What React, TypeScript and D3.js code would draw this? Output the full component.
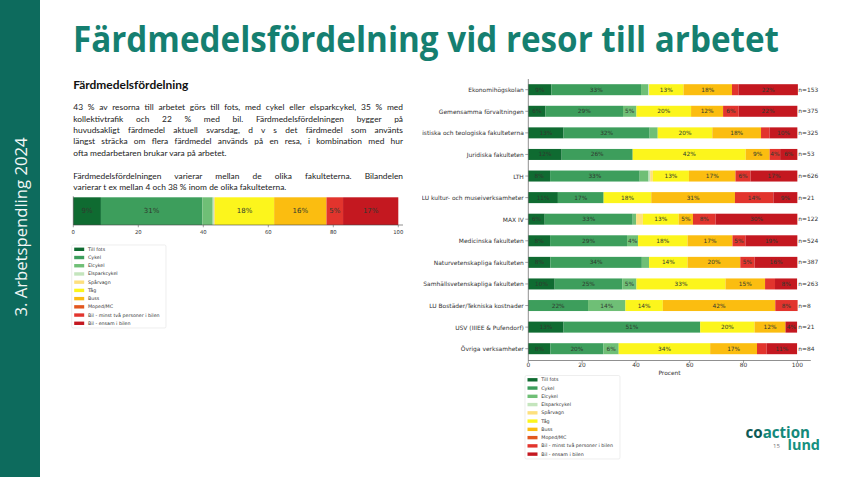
import React, { useLayoutEffect, useRef } from 'react';
import * as d3 from 'd3';

// ---------- DATA ----------
const modes = [
  'Till fots', 'Cykel', 'Elcykel', 'Elsparkcykel', 'Spårvagn', 'Tåg', 'Buss',
  'Moped/MC', 'Bil - minst två personer i bilen', 'Bil - ensam i bilen',
];
const modeColors = [
  '#0f6b31', '#3d9e5c', '#6fbf76', '#c4e5bd', '#fde07e', '#fcf51c', '#fbbd10',
  '#e2571f', '#e2342d', '#c41820',
];

// overall distribution (left chart), in mode order
const overall = [8.5, 31.2, 3.2, 0.4, 0.3, 18.2, 16.1, 0, 5.1, 17.0];
const overallTicks = [0, 20, 40, 60, 80, 100];

const units = [
  'Ekonomihögskolan',
  'Gemensamma förvaltningen',
  'Humanistiska och teologiska fakulteterna',
  'Juridiska fakulteten',
  'LTH',
  'LU kultur- och museiverksamheter',
  'MAX IV',
  'Medicinska fakulteten',
  'Naturvetenskapliga fakulteten',
  'Samhällsvetenskapliga fakulteten',
  'LU Bostäder/Tekniska kostnader',
  'USV (IIIEE & Pufendorf)',
  'Övriga verksamheter',
];
const nValues = [153, 375, 325, 53, 626, 21, 122, 524, 387, 263, 8, 21, 84];

const tillFots = [8.6, 6.4, 13.1, 12.4, 8.1, 11.0, 6.1, 8.1, 8.2, 9.8, 0, 13.1, 8.2];
const cykel = [33.3, 28.8, 32.0, 26.4, 33.3, 17.0, 32.7, 28.6, 34.0, 25.1, 22.2, 50.8, 19.7];
const elcykel = [2.7, 5.0, 3.0, 0, 3.3, 0, 1.3, 4.1, 2.7, 5.3, 13.9, 0, 5.7];
const elsparkcykel = [0.3, 0, 0, 0, 0.6, 0, 0, 0, 0, 0, 0, 0, 0];
const sparvagn = [0, 0, 0, 0, 1.0, 0, 2.5, 0, 0, 0, 0, 0, 0];
const tag = [12.8, 20.3, 20.3, 42.0, 13.4, 17.7, 13.3, 18.4, 14.3, 33.1, 13.9, 20.2, 34.0];
const buss = [18.0, 11.9, 18.1, 8.9, 17.3, 31.1, 5.3, 16.7, 19.6, 14.7, 41.8, 11.5, 17.4];
const moped = [0, 0, 0, 0, 0, 0, 0, 0, 0, 0, 0, 0, 0];
const bilMinstTva = [2.4, 5.8, 3.2, 3.9, 5.6, 14.3, 8.4, 4.8, 5.3, 3.7, 8.3, 0, 3.6];
const bilEnsam = [22.1, 21.8, 10.3, 6.4, 17.4, 8.9, 30.4, 19.3, 15.9, 8.2, 0, 4.3, 11.3];
const seriesByMode = [tillFots, cykel, elcykel, elsparkcykel, sparvagn, tag, buss, moped, bilMinstTva, bilEnsam];
const unitTicks = [0, 20, 40, 60, 80, 100];

const title = 'Färdmedelsfördelning vid resor till arbetet';
const sideText = '3. Arbetspendling 2024';
const heading = 'Färdmedelsfördelning';
const paragraph1 = [
  '43 % av resorna till arbetet görs till fots, med cykel eller elsparkcykel,  35 % med',
  'kollektivtrafik och 22 % med bil. Färdmedelsfördelningen bygger på',
  'huvudsakligt färdmedel aktuell svarsdag, d v s det färdmedel som använts',
  'längst sträcka om flera färdmedel används på en resa, i kombination med hur',
  'ofta medarbetaren brukar vara på arbetet.',
];
const paragraph2 = [
  'Färdmedelsfördelningen varierar mellan de olika fakulteterna. Bilandelen',
  'varierar t ex mellan 4 och 38 % inom de olika fakulteterna.',
];

const MPL = "'DejaVu Sans', sans-serif";
const BODY = "Lato, 'Open Sans', sans-serif";

function Legend({ x, y, w, h, step }: { x: number; y: number; w: number; h: number; step: number }) {
  return (
    <g>
      <rect x={x} y={y} width={w} height={h} rx={1.5} fill="#fff" stroke="#e2e2e2" strokeWidth={0.6} />
      {modes.map((m, i) => (
        <g key={m}>
          <rect x={x + 2.5} y={y + 4.3 + i * step - 1.7} width={10} height={3.4} fill={modeColors[i]} />
          <text x={x + 16.3} y={y + 4.3 + i * step} fontSize={4.75} fontFamily={MPL} fill="#333" dominantBaseline="central">
            {m}
          </text>
        </g>
      ))}
    </g>
  );
}

export default function App() {
  const lineRefs = useRef<(SVGTextElement | null)[]>([]);
  const textLeft = 73.3;
  const textWidth = 329.7;

  const justified: { text: string; y: number; justify: boolean }[] = [];
  const p1y = [110, 121.5, 133, 144.3, 155.7];
  paragraph1.forEach((t, i) => justified.push({ text: t, y: p1y[i], justify: i < paragraph1.length - 1 }));
  const p2y = [178.6, 189.5];
  paragraph2.forEach((t, i) => justified.push({ text: t, y: p2y[i], justify: i < paragraph2.length - 1 }));

  useLayoutEffect(() => {
    lineRefs.current.forEach((el, i) => {
      if (!el || !justified[i].justify) return;
      el.removeAttribute('word-spacing');
      el.removeAttribute('textLength');
      const w = el.getComputedTextLength();
      const spaces = (justified[i].text.replace(/\s+/g, ' ').match(/ /g) || []).length;
      const ws = (textWidth - w) / spaces;
      if (ws >= 0) {
        el.setAttribute('word-spacing', String(ws));
      } else {
        el.setAttribute('textLength', String(textWidth));
        el.setAttribute('lengthAdjust', 'spacingAndGlyphs');
      }
    });
  }, []);

  // ----- left overall chart -----
  const xl = d3.scaleLinear().domain([0, 100]).range([73.3, 398.3]);
  const leftRow = [Object.fromEntries(modes.map((m, i) => [m, overall[i]]))];
  const leftStack = d3.stack<any>().keys(modes)(leftRow);
  const lBarTop = 197.3;
  const lBarBot = 225;

  // ----- right chart -----
  const xr = d3.scaleLinear().domain([0, 105]).range([528.3, 810.8]);
  const yr = d3.scalePoint<string>().domain(units).range([89.7, 348.7]);
  const barH = 11;
  const table = units.map((u, j) => {
    const row: any = { unit: u };
    modes.forEach((m, i) => (row[m] = seriesByMode[i][j]));
    return row;
  });
  const rStack = d3.stack<any>().keys(modes)(table);
  const axisY = 360.5;

  return (
    <svg width={848} height={477} style={{ position: 'absolute', left: 0, top: 0, background: '#fff' }}>
      <defs>
        <clipPath id="rightClip">
          <rect x={422} y={70} width={426} height={400} />
        </clipPath>
      </defs>
      <rect x={0} y={0} width={848} height={477} fill="#fff" />
      {/* side bar */}
      <rect x={0} y={0} width={40} height={477} fill="#0d6b5d" />
      <text
        transform="translate(26.5,227) rotate(-90)"
        textAnchor="middle"
        fontFamily="'Open Sans', sans-serif"
        fontSize={16}
        fill="#f2f7f6"
        textLength={179}
        lengthAdjust="spacingAndGlyphs"
      >
        {sideText}
      </text>

      {/* title */}
      <text
        x={73}
        y={52}
        fontFamily="'Open Sans', sans-serif"
        fontWeight={700}
        fontSize={35}
        fill="#157f70"
        textLength={706}
        lengthAdjust="spacingAndGlyphs"
      >
        {title}
      </text>

      {/* left text */}
      <text x={textLeft} y={89} fontFamily={BODY} fontWeight={700} fontSize={11} fill="#111" textLength={115} lengthAdjust="spacingAndGlyphs">
        {heading}
      </text>
      {justified.map((l, i) => (
        <text
          key={i}
          ref={(el) => { lineRefs.current[i] = el; }}
          x={textLeft}
          y={l.y}
          fontFamily={BODY}
          fontSize={8.4}
          fill="#1a1a1a"
        >
          {l.text}
        </text>
      ))}

      {/* left chart */}
      <g>
        {leftStack.map((s, i) =>
          s.map((d, j) => {
            const v = d[1] - d[0];
            if (v <= 0) return null;
            const x0 = xl(d[0]);
            const x1 = xl(d[1]);
            return (
              <g key={`${i}-${j}`}>
                <rect x={x0} y={lBarTop} width={x1 - x0} height={lBarBot - lBarTop} fill={modeColors[i]} />
                {v >= 3.8 && (
                  <text x={(x0 + x1) / 2} y={(lBarTop + lBarBot) / 2} fontSize={7} fontFamily={MPL} fill="#2f3a2f" textAnchor="middle" dominantBaseline="central">
                    {Math.round(v)}%
                  </text>
                )}
              </g>
            );
          })
        )}
        <line x1={73.3} x2={73.3} y1={196.3} y2={lBarBot} stroke="#444" strokeWidth={0.6} />
        <line x1={73.3} x2={403} y1={lBarBot} y2={lBarBot} stroke="#444" strokeWidth={0.6} />
        {overallTicks.map((t) => (
          <g key={t}>
            <line x1={xl(t)} x2={xl(t)} y1={lBarBot} y2={lBarBot + 2.3} stroke="#444" strokeWidth={0.5} />
            <text x={xl(t)} y={233.6} fontSize={5.3} fontFamily={MPL} fill="#333" textAnchor="middle">
              {t}
            </text>
          </g>
        ))}
      </g>
      <Legend x={71.7} y={245} w={94.3} h={83} step={8.22} />

      {/* right chart */}
      <g clipPath="url(#rightClip)">
        {rStack.map((s, i) =>
          s.map((d, j) => {
            const v = d[1] - d[0];
            if (v <= 0) return null;
            const x0 = xr(d[0]);
            const x1 = xr(d[1]);
            const cy = yr(units[j]) as number;
            return (
              <g key={`${i}-${j}`}>
                <rect x={x0} y={cy - barH / 2} width={x1 - x0} height={barH} fill={modeColors[i]} />
                {v >= 3.8 && (
                  <text x={(x0 + x1) / 2} y={cy} fontSize={5.8} fontFamily={MPL} fill="#2f3a2f" textAnchor="middle" dominantBaseline="central">
                    {Math.round(v)}%
                  </text>
                )}
              </g>
            );
          })
        )}
        {units.map((u, j) => {
          const cy = yr(u) as number;
          return (
            <g key={u}>
              <line x1={xr(0) - 3} x2={xr(0)} y1={cy} y2={cy} stroke="#444" strokeWidth={0.5} />
              <text x={xr(0) - 4.5} y={cy} fontSize={5.95} fontFamily={MPL} fill="#333" textAnchor="end" dominantBaseline="central">
                {u}
              </text>
              <text x={xr(100) + 1} y={cy} fontSize={5.9} fontFamily={MPL} fill="#333" dominantBaseline="central">
                n={nValues[j]}
              </text>
            </g>
          );
        })}
        <line x1={xr(0)} x2={xr(0)} y1={79} y2={axisY} stroke="#444" strokeWidth={0.6} />
        <line x1={xr(0)} x2={xr(105)} y1={axisY} y2={axisY} stroke="#444" strokeWidth={0.6} />
        {unitTicks.map((t) => (
          <g key={t}>
            <line x1={xr(t)} x2={xr(t)} y1={axisY} y2={axisY + 2.5} stroke="#444" strokeWidth={0.5} />
            <text x={xr(t)} y={367.3} fontSize={5.9} fontFamily={MPL} fill="#333" textAnchor="middle">
              {t}
            </text>
          </g>
        ))}
        <text x={(xr(0) + xr(105)) / 2} y={375} fontSize={5.9} fontFamily={MPL} fill="#333" textAnchor="middle">
          Procent
        </text>
      </g>
      <Legend x={525} y={375.5} w={95} h={83.5} step={8.26} />

      {/* logo */}
      <text x={745.5} y={437.5} fontFamily="'Open Sans', sans-serif" fontWeight={700} fontSize={16} textLength={64.5} lengthAdjust="spacingAndGlyphs">
        <tspan fill="#0e5a55">co</tspan>
        <tspan fill="#14897b">action</tspan>
      </text>
      <text x={787.5} y={450} fontFamily="'Open Sans', sans-serif" fontWeight={700} fontSize={14.5} fill="#16907f" textLength={32.5} lengthAdjust="spacingAndGlyphs">
        lund
      </text>
      <text x={773} y={448.3} fontFamily="'Open Sans', sans-serif" fontSize={6} fill="#777">
        15
      </text>
    </svg>
  );
}
